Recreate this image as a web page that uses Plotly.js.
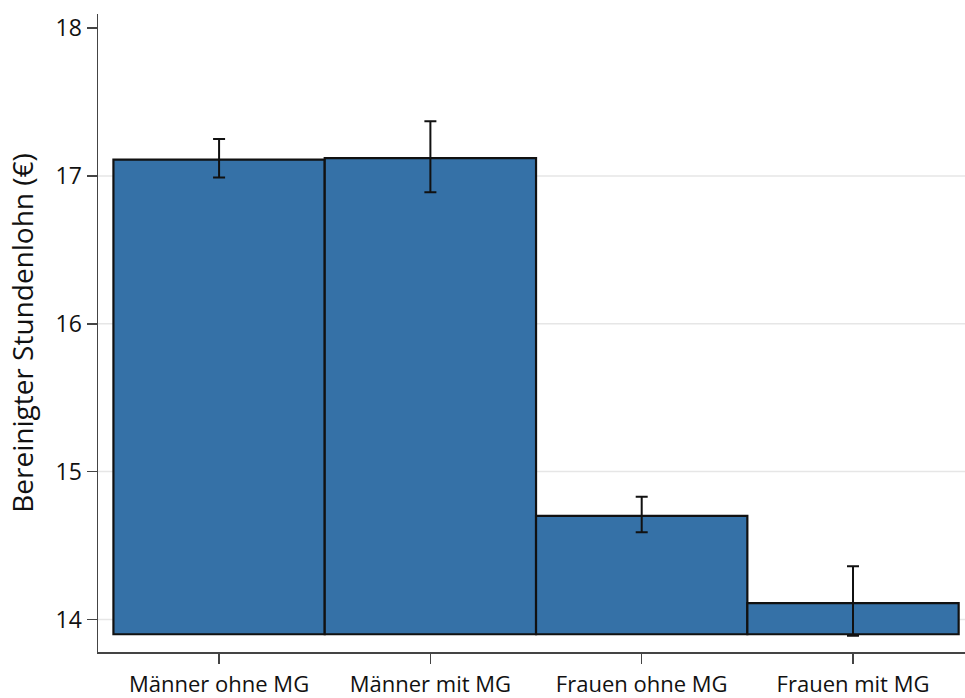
<!DOCTYPE html>
<html>
<head>
<meta charset="utf-8">
<script src="https://cdn.plot.ly/plotly-3.0.1.min.js"></script>
<style>html,body{margin:0;padding:0;background:#fff;}#chart{width:965px;height:698px;}</style>
</head>
<body>
<div id="chart"></div>
<script>
const categories = ["Männer ohne MG", "Männer mit MG", "Frauen ohne MG", "Frauen mit MG"];
const wages = [17.11, 17.12, 14.70, 14.11];
const ciUpper = [17.25, 17.37, 14.83, 14.36];
const ciLower = [16.99, 16.89, 14.59, 13.89];
const baseValue = 13.9;
const yTicks = [14, 15, 16, 17, 18];
const gridValues = [14, 15, 16, 17];

const barTrace = {
  type: 'bar',
  x: categories,
  y: wages.map(v => v - baseValue),
  base: baseValue,
  width: 1,
  marker: {color: '#3571a7', line: {color: '#111111', width: 2.2}},
  hoverinfo: 'skip',
  showlegend: false
};
const errTrace = {
  type: 'scatter',
  mode: 'markers',
  x: categories,
  y: wages,
  marker: {size: 1, color: 'rgba(0,0,0,0)'},
  error_y: {
    type: 'data', symmetric: false,
    array: ciUpper.map((u, i) => u - wages[i]),
    arrayminus: wages.map((w, i) => w - ciLower[i]),
    color: '#111111', thickness: 2, width: 6
  },
  showlegend: false,
  hoverinfo: 'skip'
};

const layout = {
  width: 965, height: 698,
  margin: {l: 98, r: 0, t: 14, b: 46},
  paper_bgcolor: '#ffffff', plot_bgcolor: '#ffffff',
  font: {family: 'Open Sans, sans-serif', color: '#111111', size: 22},
  bargap: 0,
  xaxis: {
    type: 'category', range: [-0.573, 3.53],
    showline: true, linecolor: '#444444', linewidth: 1.5,
    ticks: 'outside', ticklen: 10, tickcolor: '#444444', tickwidth: 1.5,
    showgrid: false, zeroline: false, fixedrange: true,
    tickfont: {size: 22}, ticklabelstandoff: 2
  },
  yaxis: {
    range: [13.78, 18.095],
    tickvals: yTicks, ticktext: yTicks.map(String),
    showline: true, linecolor: '#444444', linewidth: 1.5,
    ticks: 'outside', ticklen: 10, tickcolor: '#444444', tickwidth: 1.5,
    showgrid: false, zeroline: false,
    tickfont: {size: 23},
    title: {text: 'Bereinigter Stundenlohn (€)', font: {size: 28}, standoff: 14}
  },
  shapes: gridValues.map(g => ({
    type: 'line', xref: 'paper', x0: 0, x1: 1, yref: 'y', y0: g, y1: g,
    line: {color: '#e6e6e6', width: 1.5}, layer: 'below'
  }))
};

Plotly.newPlot('chart', [barTrace, errTrace], layout, {displayModeBar: false, staticPlot: true});
</script>
</body>
</html>
